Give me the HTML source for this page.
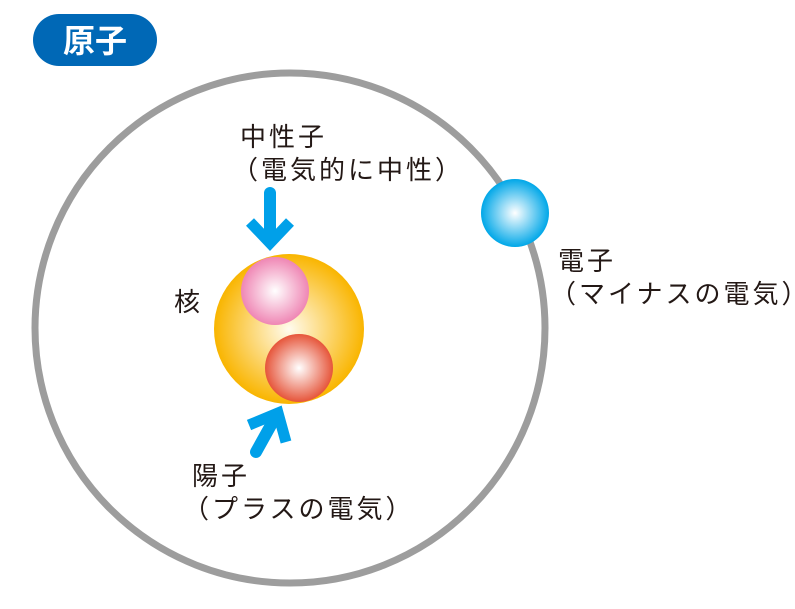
<!DOCTYPE html>
<html><head><meta charset="utf-8"><style>
html,body{margin:0;padding:0;background:#fff;}
body{width:795px;height:609px;position:relative;overflow:hidden;font-family:"Liberation Sans","Noto Sans CJK JP",sans-serif;color:#231815;}
.t{position:absolute;font-size:26px;line-height:30px;white-space:nowrap;letter-spacing:3px;}
</style></head><body>
<svg width="795" height="609" style="position:absolute;left:0;top:0">
<defs>
<radialGradient id="nuc" cx="0.5" cy="0.5" r="0.5"><stop offset="0" stop-color="#fffbee"/><stop offset="1" stop-color="#f9b500"/></radialGradient>
<radialGradient id="pk" cx="0.5" cy="0.5" r="0.5"><stop offset="0" stop-color="#fff"/><stop offset="1" stop-color="#ef86b4"/></radialGradient>
<radialGradient id="rd" cx="0.5" cy="0.5" r="0.5"><stop offset="0" stop-color="#fff"/><stop offset="1" stop-color="#e6553a"/></radialGradient>
<radialGradient id="bl" cx="0.5" cy="0.5" r="0.5"><stop offset="0" stop-color="#fff"/><stop offset="1" stop-color="#00a7e8"/></radialGradient>
</defs>
<rect x="33" y="14" width="124" height="52" rx="26" fill="#0068b6"/>
<text x="95" y="52" text-anchor="middle" font-size="32" font-weight="bold" fill="#fff" font-family="Liberation Sans,Noto Sans CJK JP,sans-serif">原子</text>
<circle cx="290" cy="328" r="255" fill="none" stroke="#9d9d9d" stroke-width="7"/>
<circle cx="289" cy="329" r="75" fill="url(#nuc)"/>
<circle cx="275" cy="291" r="34" fill="url(#pk)"/>
<circle cx="299" cy="368" r="34" fill="url(#rd)"/>
<circle cx="515" cy="213" r="34" fill="url(#bl)"/>
<g stroke="#00a0e9" stroke-width="12" fill="none" stroke-linecap="butt">
<line x1="270" y1="193" x2="270" y2="240" stroke-linecap="round"/>
<polyline points="250,222 270,243 290,222" stroke-width="11"/>
<line x1="256" y1="452" x2="276" y2="416" stroke-linecap="round"/>
<polyline points="249,425 278,413 286,442" stroke-width="11"/>
</g>
</svg>
<div class="t" style="left:240px;top:122px">中性子</div>
<div class="t" style="left:232px;top:155px">（電気的に中性）</div>
<div class="t" style="left:174px;top:287px">核</div>
<div class="t" style="left:558px;top:246px">電子</div>
<div class="t" style="left:550px;top:279px">（マイナスの電気）</div>
<div class="t" style="left:192px;top:461px">陽子</div>
<div class="t" style="left:183px;top:494px">（プラスの電気）</div>
</body></html>
